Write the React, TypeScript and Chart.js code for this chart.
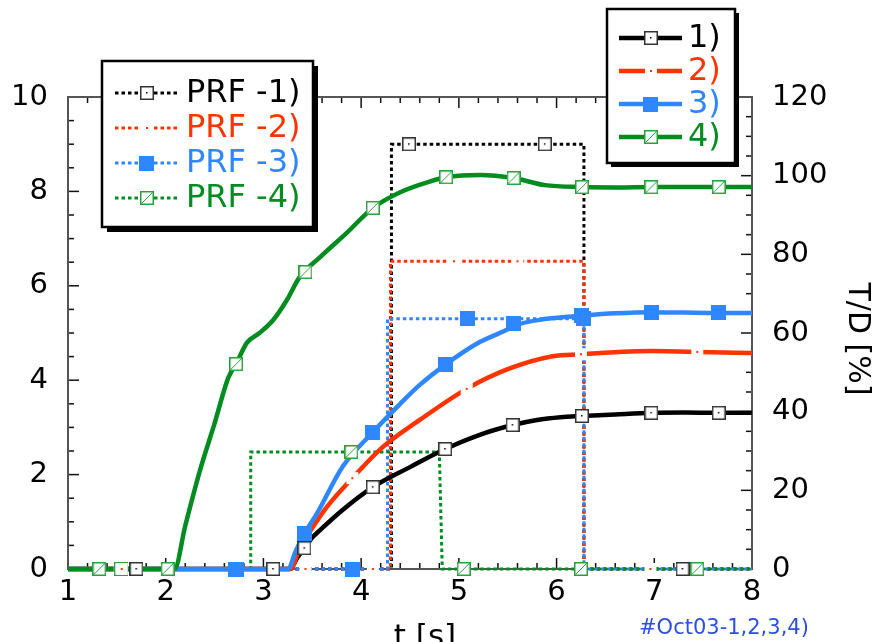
import React, { useEffect, useRef } from 'react';
import { Chart, registerables } from 'chart.js';

Chart.register(...registerables);

const FONT = '"DejaVu Sans", Verdana, sans-serif';

// axes
const X_MIN = 1;
const X_MAX = 8;
const PRF_MIN = 0;
const PRF_MAX = 10;
const TD_MIN = 0;
const TD_MAX = 120;
const X_STEP = 1;
const PRF_STEP = 2;
const TD_STEP = 20;
const X_MINOR = 0.2;
const PRF_MINOR = 0.5;

// T/D [%] curves (right axis)
const TD1_X = [1, 3.27, 3.35, 3.42, 3.5, 3.58, 3.81, 4.12, 4.5, 4.86, 5.2, 5.55, 5.8, 6.04, 6.26, 6.6, 6.97, 7.3, 7.66, 8];
const TD1_Y = [0, 0, 3, 5.3, 8, 9.9, 15, 20.8, 25.9, 30.5, 34, 36.6, 37.9, 38.6, 38.9, 39.3, 39.7, 39.8, 39.7, 39.7];
const TD2_X = [1, 3.28, 3.36, 3.45, 3.55, 3.65, 3.91, 4.22, 4.6, 5.08, 5.5, 5.96, 6.26, 6.6, 6.97, 7.47, 8];
const TD2_Y = [0, 0, 4.5, 8.5, 12.3, 15.8, 23.1, 31, 37.9, 45.8, 50.8, 54.1, 54.6, 55.1, 55.4, 55.2, 54.9];
const TD3_X = [1, 3.25, 3.33, 3.42, 3.55, 3.81, 4.12, 4.4, 4.6, 4.86, 5.2, 5.49, 5.56, 5.9, 6.26, 6.6, 6.97, 7.3, 7.66, 8];
const TD3_Y = [0, 0, 4.5, 9, 14.2, 26, 34.8, 42, 46.8, 51.9, 57.5, 60.8, 61.8, 63.6, 64.4, 65, 65.3, 65.2, 65.1, 65.1];
const TD4_X = [1, 2.09, 2.2, 2.35, 2.5, 2.64, 2.72, 2.83, 2.96, 3.1, 3.24, 3.37, 3.58, 3.85, 4.12, 4.4, 4.7, 4.87, 5.22, 5.56, 5.88, 6.26, 6.6, 7, 7.66, 8];
const TD4_Y = [0, 0, 11, 25, 37, 48.6, 52.1, 57.5, 60, 63.3, 68.4, 74.2, 79.3, 85.4, 91.8, 95.8, 98.5, 99.6, 100.2, 99.4, 97.6, 97.1, 97, 97.1, 97.1, 97.1];

// T/D marker positions
const TD1_MK_X = [1.32, 2.02, 2.72, 3.42, 4.12, 4.86, 5.55, 6.26, 6.97, 7.66];
const TD1_MK_Y = [0, 0, 0, 5.3, 20.8, 30.5, 36.6, 38.9, 39.7, 39.7];
const TD2_MK_X = [1.55, 2.73, 3.91, 5.08, 6.25, 7.44];
const TD2_MK_Y = [0, 0, 23.1, 45.8, 54.6, 55.2];
const TD3_MK_X = [2.72, 3.42, 4.12, 4.86, 5.56, 6.26, 6.97, 7.66];
const TD3_MK_Y = [0, 9, 34.8, 51.9, 62.3, 64.4, 65.3, 65.1];
const TD4_MK_X = [1.32, 2.02, 2.72, 3.43, 4.12, 4.87, 5.56, 6.26, 6.97, 7.66];
const TD4_MK_Y = [0, 0, 52.1, 75.5, 91.8, 99.6, 99.4, 97.1, 97.1, 97.1];

// PRF step curves (left axis)
const PRF1_X = [1, 4.31, 4.31, 6.28, 6.28, 8];
const PRF1_Y = [0, 0, 9, 9, 0, 0];
const PRF2_X = [1, 4.3, 4.3, 6.28, 6.28, 8];
const PRF2_Y = [0, 0, 6.52, 6.52, 0, 0];
const PRF3_X = [1, 4.27, 4.27, 6.28, 6.28, 8];
const PRF3_Y = [0, 0, 5.3, 5.3, 0, 0];
const PRF4_X = [1, 2.87, 2.87, 4.8, 4.83, 8];
const PRF4_Y = [0, 0, 2.48, 2.48, 0, 0];

// PRF marker positions
const PRF1_MK_X = [1.7, 3.1, 4.49, 5.88, 7.29];
const PRF1_MK_Y = [0, 0, 9, 9, 0];
const PRF2_MK_X = [1.53, 3.43, 4.12, 4.95, 5.6, 6.96];
const PRF2_MK_Y = [0, 0, 0, 6.52, 6.52, 0];
const PRF3_MK_X = [2.71, 3.91, 5.09, 6.28];
const PRF3_MK_Y = [0, 0, 5.3, 5.3];
const PRF4_MK_X = [1.54, 2.72, 3.9, 5.05, 6.25, 7.44];
const PRF4_MK_Y = [0, 0, 2.48, 0, 0, 0];

const TD_LABELS = ['1)', '2)', '3)', '4)'];
const PRF_LABELS = ['PRF -1)', 'PRF -2)', 'PRF -3)', 'PRF -4)'];
const X_TITLE = 't [s]';
const Y2_TITLE = 'T/D [%]';
const NOTE = '#Oct03-1,2,3,4)';

const BLACK = '#000000';
const RED = '#ff3300';
const BLUE = '#2f87ff';
const GREEN = '#008c1e';
const COLORS = [BLACK, RED, BLUE, GREEN];

const zip = (xs: number[], ys: number[]) => xs.map((x, i) => ({ x, y: ys[i] }));

function makeMarker(kind: number): HTMLCanvasElement {
  const c = document.createElement('canvas');
  const s = kind === 2 ? 15 : 14;
  c.width = s;
  c.height = s;
  const g = c.getContext('2d')!;
  if (kind === 0) {
    g.fillStyle = '#fff';
    g.fillRect(0, 0, s, s);
    g.strokeStyle = '#333';
    g.lineWidth = 1.5;
    g.strokeRect(0.75, 0.75, s - 1.5, s - 1.5);
    g.fillStyle = '#000';
    g.fillRect(s / 2 - 1, s / 2 - 1, 1.5, 1.5);
  } else if (kind === 1) {
    g.fillStyle = '#fff';
    g.fillRect(1, 1, s - 2, s - 2);
    g.fillStyle = RED;
    g.fillRect(s / 2 - 1, s / 2 - 1, 2, 2);
  } else if (kind === 2) {
    g.fillStyle = BLUE;
    g.fillRect(0, 0, s, s);
  } else {
    g.fillStyle = '#fff';
    g.fillRect(0, 0, s, s);
    g.strokeStyle = '#2aa03c';
    g.lineWidth = 1.5;
    g.strokeRect(0.75, 0.75, s - 1.5, s - 1.5);
    g.lineWidth = 1;
    g.beginPath();
    g.moveTo(1.5, s - 1.5);
    g.lineTo(s - 1.5, 1.5);
    g.stroke();
  }
  return c;
}

export default function App() {
  const ref = useRef<HTMLCanvasElement | null>(null);

  useEffect(() => {
    const canvas = ref.current;
    if (!canvas) return;
    const markers = [0, 1, 2, 3].map(makeMarker);
    const DOT = [3.5, 3];

    const tdX = [TD1_X, TD2_X, TD3_X, TD4_X];
    const tdY = [TD1_Y, TD2_Y, TD3_Y, TD4_Y];
    const tdMX = [TD1_MK_X, TD2_MK_X, TD3_MK_X, TD4_MK_X];
    const tdMY = [TD1_MK_Y, TD2_MK_Y, TD3_MK_Y, TD4_MK_Y];
    const prX = [PRF1_X, PRF2_X, PRF3_X, PRF4_X];
    const prY = [PRF1_Y, PRF2_Y, PRF3_Y, PRF4_Y];
    const prMX = [PRF1_MK_X, PRF2_MK_X, PRF3_MK_X, PRF4_MK_X];
    const prMY = [PRF1_MK_Y, PRF2_MK_Y, PRF3_MK_Y, PRF4_MK_Y];

    const datasets: any[] = [];
    for (let i = 0; i < 4; i++) {
      datasets.push({
        data: zip(prX[i], prY[i]),
        yAxisID: 'y',
        borderColor: COLORS[i],
        borderWidth: 3,
        borderDash: DOT,
        pointRadius: 0,
        tension: 0,
        clip: false,
        order: 103 - i,
      });
    }
    for (let i = 0; i < 4; i++) {
      datasets.push({
        data: zip(tdX[i], tdY[i]),
        yAxisID: 'y1',
        borderColor: COLORS[i],
        borderWidth: 4.5,
        pointRadius: 0,
        cubicInterpolationMode: 'monotone',
        clip: false,
        order: 53 - i,
      });
    }
    for (let i = 0; i < 4; i++) {
      datasets.push({
        data: zip(prMX[i], prMY[i]),
        yAxisID: 'y',
        showLine: false,
        pointStyle: markers[i],
        pointRadius: 7,
        clip: false,
        order: 23 - i,
      });
    }
    for (let i = 0; i < 4; i++) {
      datasets.push({
        data: zip(tdMX[i], tdMY[i]),
        yAxisID: 'y1',
        showLine: false,
        pointStyle: markers[i],
        pointRadius: 7,
        clip: false,
        order: 13 - i,
      });
    }

    const framePlugin = {
      id: 'frameTicks',
      beforeDatasetsDraw(chart: any) {
        const { ctx, chartArea, scales } = chart;
        const { left, right, top, bottom } = chartArea;
        ctx.save();
        ctx.strokeStyle = '#111';
        ctx.lineWidth = 1.5;
        const seg = (x1: number, y1: number, x2: number, y2: number) => {
          ctx.beginPath();
          ctx.moveTo(x1, y1);
          ctx.lineTo(x2, y2);
          ctx.stroke();
        };
        const xs = scales.x;
        const nX = Math.round((X_MAX - X_MIN) / X_MINOR);
        for (let k = 0; k <= nX; k++) {
          const v = X_MIN + k * X_MINOR;
          const px = xs.getPixelForValue(v);
          const major = k % Math.round(X_STEP / X_MINOR) === 0;
          const len = major ? 11 : 6;
          seg(px, bottom, px, bottom - len);
          seg(px, top, px, top + len);
        }
        const ys = scales.y;
        const nY = Math.round((PRF_MAX - PRF_MIN) / PRF_MINOR);
        for (let k = 0; k <= nY; k++) {
          const v = PRF_MIN + k * PRF_MINOR;
          const py = ys.getPixelForValue(v);
          const major = k % Math.round(PRF_STEP / PRF_MINOR) === 0;
          seg(left, py, left + (major ? 11 : 6), py);
        }
        const y1 = scales.y1;
        const TD_MINOR = TD_STEP / 4;
        const nY1 = Math.round((TD_MAX - TD_MIN) / TD_MINOR);
        for (let k = 0; k <= nY1; k++) {
          const v = TD_MIN + k * TD_MINOR;
          const py = y1.getPixelForValue(v);
          const major = k % 4 === 0;
          seg(right, py, right - (major ? 11 : 6), py);
        }
        ctx.strokeStyle = '#555';
        ctx.lineWidth = 2;
        ctx.strokeRect(left, top, right - left, bottom - top);
        ctx.restore();
      },
      afterDraw(chart: any) {
        const { ctx } = chart;
        ctx.save();
        const drawBox = (x1: number, y1: number, x2: number, y2: number, sh: number) => {
          ctx.fillStyle = '#000';
          ctx.fillRect(x1 + sh, y1 + sh, x2 - x1, y2 - y1);
          ctx.fillStyle = '#fff';
          ctx.fillRect(x1, y1, x2 - x1, y2 - y1);
          ctx.strokeStyle = '#000';
          ctx.lineWidth = 2.5;
          ctx.strokeRect(x1, y1, x2 - x1, y2 - y1);
        };
        const sample = (i: number, x1: number, x2: number, y: number, dotted: boolean) => {
          ctx.save();
          ctx.strokeStyle = COLORS[i];
          ctx.lineWidth = dotted ? 3 : 4.5;
          ctx.setLineDash(dotted ? DOT : []);
          ctx.beginPath();
          ctx.moveTo(x1, y);
          ctx.lineTo(x2, y);
          ctx.stroke();
          ctx.restore();
          const m = markers[i];
          ctx.drawImage(m, Math.round((x1 + x2) / 2 - m.width / 2), Math.round(y - m.height / 2));
        };
        // left legend (PRF)
        drawBox(102, 61, 313, 227, 5);
        ctx.font = `32px ${FONT}`;
        ctx.textBaseline = 'middle';
        ctx.textAlign = 'left';
        const rowsL = [93, 128, 163, 198];
        for (let i = 0; i < 4; i++) {
          sample(i, 115, 178, rowsL[i], true);
          ctx.fillStyle = COLORS[i];
          ctx.fillText(PRF_LABELS[i], 186, rowsL[i] + 1);
        }
        // right legend (T/D)
        drawBox(607, 9, 735, 163, 4);
        const rowsR = [38, 71, 104, 137];
        for (let i = 0; i < 4; i++) {
          sample(i, 619, 682, rowsR[i], false);
          ctx.fillStyle = COLORS[i];
          ctx.fillText(TD_LABELS[i], 688, rowsR[i] + 1);
        }
        // right axis title
        ctx.save();
        ctx.translate(857, 339);
        ctx.rotate(Math.PI / 2);
        ctx.fillStyle = '#000';
        ctx.font = `30px ${FONT}`;
        ctx.textAlign = 'center';
        ctx.textBaseline = 'middle';
        ctx.fillText(Y2_TITLE, 0, 0);
        ctx.restore();
        // x axis title (cut off by bottom edge)
        ctx.fillStyle = '#000';
        ctx.font = `31px ${FONT}`;
        ctx.textAlign = 'center';
        ctx.textBaseline = 'alphabetic';
        ctx.fillText(X_TITLE, 425, 646);
        // note
        ctx.fillStyle = '#2b4fe0';
        ctx.font = `21px ${FONT}`;
        ctx.textAlign = 'left';
        ctx.fillText(NOTE, 639, 634);
        ctx.restore();
      },
    };

    const tickFont = { family: FONT, size: 29 };
    const chart = new Chart(canvas, {
      type: 'line',
      data: { datasets },
      options: {
        responsive: false,
        animation: false,
        devicePixelRatio: 1,
        layout: { padding: { top: 97, left: 0, right: 0, bottom: 0 } },
        plugins: { legend: { display: false }, tooltip: { enabled: false } },
        scales: {
          x: {
            type: 'linear',
            position: 'bottom',
            min: X_MIN,
            max: X_MAX,
            grid: { display: false, drawTicks: false },
            border: { display: false },
            ticks: { stepSize: X_STEP, padding: 6, font: tickFont, color: '#000', maxRotation: 0, autoSkip: false },
            afterFit: (s: any) => { s.height = 73; },
          },
          y: {
            type: 'linear',
            position: 'left',
            min: PRF_MIN,
            max: PRF_MAX,
            grid: { display: false, drawTicks: false },
            border: { display: false },
            ticks: { stepSize: PRF_STEP, padding: 20, font: tickFont, color: '#000' },
            afterFit: (s: any) => { s.width = 68; },
          },
          y1: {
            type: 'linear',
            position: 'right',
            min: TD_MIN,
            max: TD_MAX,
            grid: { display: false, drawTicks: false },
            border: { display: false },
            ticks: { stepSize: TD_STEP, padding: 20, font: tickFont, color: '#000' },
            afterFit: (s: any) => { s.width = 127; },
          },
        },
      } as any,
      plugins: [framePlugin],
    });
    return () => chart.destroy();
  }, []);

  return (
    <div style={{ position: 'absolute', left: 0, top: 0, width: 879, height: 642, background: '#fff' }}>
      <canvas ref={ref} width={879} height={642} style={{ width: 879, height: 642, display: 'block' }} />
    </div>
  );
}
